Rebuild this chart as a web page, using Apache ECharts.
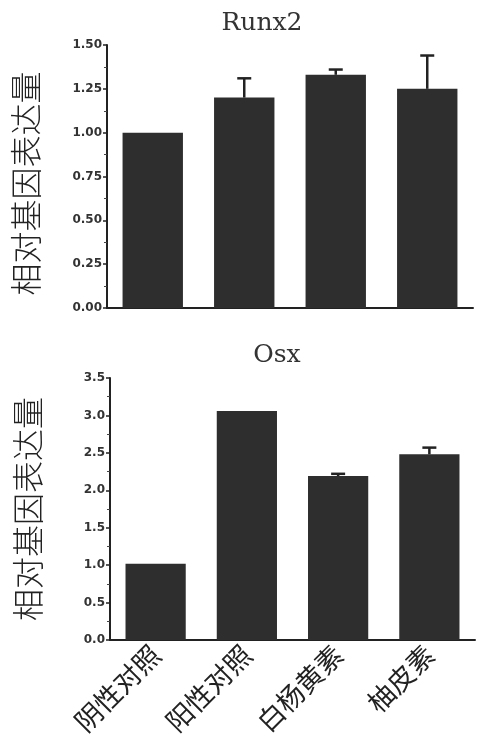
<!DOCTYPE html>
<html><head><meta charset="utf-8">
<script src="https://cdn.jsdelivr.net/npm/echarts@6/dist/echarts.min.js"></script>
<style>html,body{margin:0;padding:0;background:#fff}#c{width:477px;height:738px}</style>
</head><body><div id="c"></div>
<script>
const categories = ['阴性对照', '阳性对照', '白杨黄素', '柚皮素'];
const runx2Values = [1.00, 1.20, 1.33, 1.25];
const runx2ErrTop = [1.00, 1.31, 1.36, 1.44];
const osxValues = [1.02, 3.06, 2.19, 2.48];
const osxErrTop = [1.02, 3.06, 2.22, 2.57];
const runx2Ticks = ['0.00', '0.25', '0.50', '0.75', '1.00', '1.25', '1.50'];
const osxTicks = ['0.0', '0.5', '1.0', '1.5', '2.0', '2.5', '3.0', '3.5'];
const yName = '相对基因表达量';

const chart = echarts.init(document.getElementById('c'), null, {renderer: 'canvas'});
const barColor = '#2e2e2e';
const axisLine = {show: true, lineStyle: {color: '#222', width: 2}};
const cjk = '"Noto Sans CJK SC", sans-serif';

function errSeries(idx, vals, tops) {
  return {
    type: 'custom', xAxisIndex: idx, yAxisIndex: idx, z: 5,
    data: categories.map((c, i) => [i, vals[i], tops[i]]),
    renderItem: function (params, api) {
      const v = api.value(1), t = api.value(2);
      if (t - v < 0.005) return null;
      const p0 = api.coord([api.value(0), v]);
      const p1 = api.coord([api.value(0), t]);
      const st = {stroke: '#222', lineWidth: 2.5};
      return {type: 'group', children: [
        {type: 'line', shape: {x1: p0[0], y1: p0[1], x2: p1[0], y2: p1[1]}, style: st},
        {type: 'line', shape: {x1: p1[0] - 7, y1: p1[1], x2: p1[0] + 7, y2: p1[1]}, style: st}
      ]};
    }
  };
}

function yAxis(idx, max, interval, ticks, gap, pad) {
  return {
    type: 'value', gridIndex: idx, min: 0, max: max, interval: interval,
    name: yName, nameLocation: 'middle', nameGap: gap,
    nameTextStyle: {fontFamily: cjk, fontSize: 32, color: '#222', fontWeight: 300, padding: pad},
    axisLine: axisLine,
    axisTick: {show: true, length: 4, lineStyle: {color: '#222', width: 1.5}},
    minorTick: {show: true, splitNumber: 2, length: 3, lineStyle: {color: '#444', width: 1}},
    splitLine: {show: false},
    axisLabel: {
      margin: 5, fontFamily: '"DejaVu Sans", sans-serif', fontWeight: 'bold', fontSize: 12, color: '#333',
      formatter: function (v) { return ticks[Math.round(v / interval)]; }
    }
  };
}

chart.setOption({
  animation: false,
  backgroundColor: '#fff',
  title: [
    {text: 'Runx2', left: 257, top: 6, textAlign: 'center',
     textStyle: {fontFamily: '"DejaVu Serif", serif', fontWeight: 'normal', fontSize: 25, color: '#333'}},
    {text: 'Osx', left: 272, top: 338, textAlign: 'center',
     textStyle: {fontFamily: '"DejaVu Serif", serif', fontWeight: 'normal', fontSize: 25, color: '#333'}}
  ],
  grid: [
    {left: 107, top: 45, width: 366, height: 263, containLabel: false, outerBoundsMode: 'none'},
    {left: 110, top: 378, width: 365, height: 262, containLabel: false, outerBoundsMode: 'none'}
  ],
  xAxis: [
    {type: 'category', gridIndex: 0, data: categories, axisLine: axisLine,
     axisTick: {show: false}, axisLabel: {show: false}},
    {type: 'category', gridIndex: 1, data: categories, axisLine: axisLine,
     axisTick: {show: false},
     axisLabel: {rotate: 45, margin: 10, fontFamily: cjk, fontSize: 27, color: '#222', interval: 0}}
  ],
  yAxis: [
    yAxis(0, 1.5, 0.25, runx2Ticks, 65, [0, 14, 0, 0]),
    yAxis(1, 3.5, 0.5, osxTicks, 66, 0)
  ],
  series: [
    {type: 'bar', xAxisIndex: 0, yAxisIndex: 0, data: runx2Values, barWidth: '66%',
     itemStyle: {color: barColor}},
    errSeries(0, runx2Values, runx2ErrTop),
    {type: 'bar', xAxisIndex: 1, yAxisIndex: 1, data: osxValues, barWidth: '66%',
     itemStyle: {color: barColor}},
    errSeries(1, osxValues, osxErrTop)
  ]
});
</script></body></html>
